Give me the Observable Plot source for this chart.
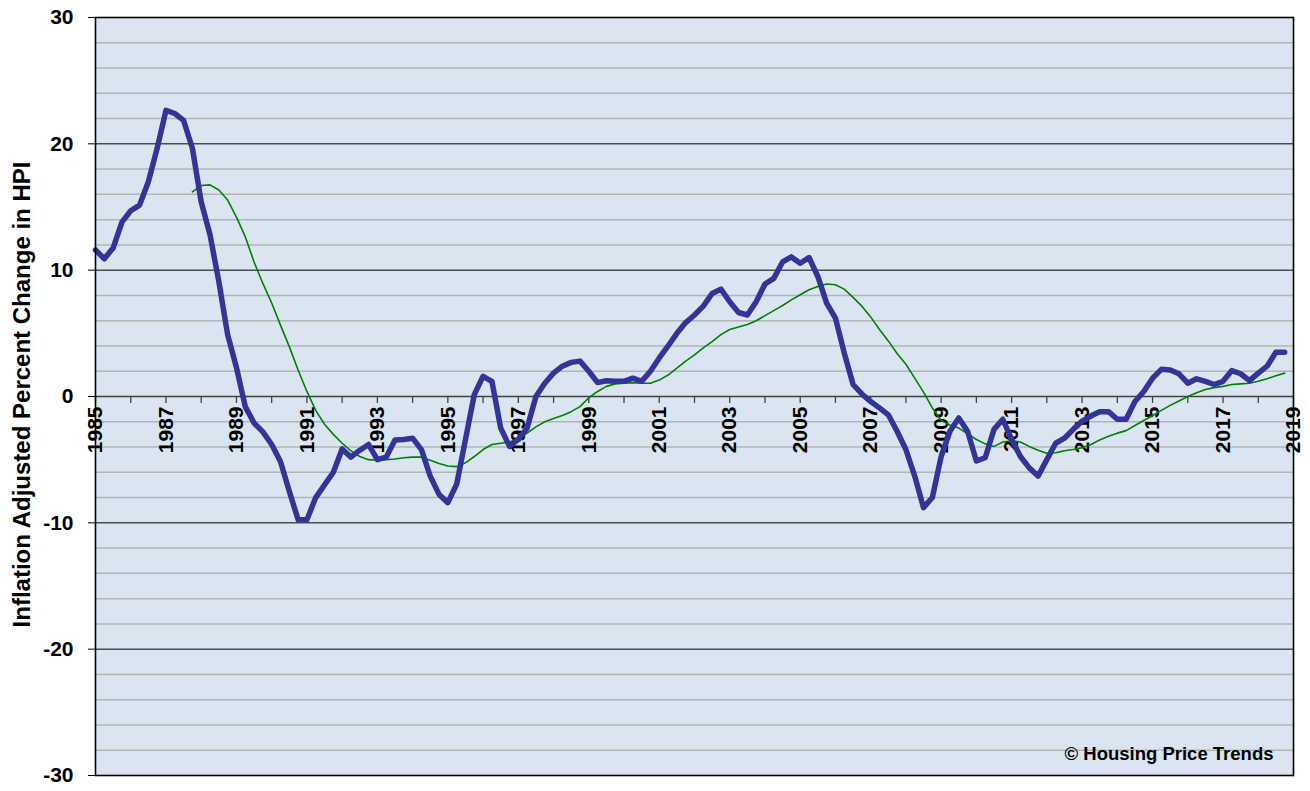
<!DOCTYPE html>
<html>
<head>
<meta charset="utf-8">
<script src="https://cdn.jsdelivr.net/npm/d3@7"></script>
<script src="https://cdn.jsdelivr.net/npm/@observablehq/plot@0.6"></script>
<style>
  html, body { margin: 0; padding: 0; background: white; }
  #chart svg text { font-weight: bold; }
</style>
</head>
<body>
<div id="chart"></div>
<script>
// Quarterly series, 1985 Q1 .. 2018 Q4
const firstYear = 1985;
const hpiChange = [
  11.6, 10.9, 11.75, 13.8,     // 1985
  14.7, 15.15, 17.0, 19.65,    // 1986
  22.65, 22.4, 21.85, 19.65,   // 1987
  15.4, 12.8, 9.1, 4.9,        // 1988
  2.3, -0.8, -2.1, -2.8,       // 1989
  -3.8, -5.15, -7.5, -9.75,    // 1990
  -9.75, -8.0, -7.0, -6.0,     // 1991
  -4.15, -4.8, -4.25, -3.8,    // 1992
  -5.0, -4.8, -3.45, -3.4,     // 1993
  -3.3, -4.2, -6.3, -7.75,     // 1994
  -8.4, -6.95, -3.4, 0.15,     // 1995
  1.6, 1.2, -2.5, -3.95,       // 1996
  -3.4, -2.5, 0.0, 1.05,       // 1997
  1.85, 2.4, 2.7, 2.8,         // 1998
  2.0, 1.1, 1.25, 1.2,         // 1999
  1.2, 1.45, 1.2, 2.0,         // 2000
  3.05, 4.0, 5.0, 5.85,        // 2001
  6.45, 7.15, 8.15, 8.5,       // 2002
  7.5, 6.65, 6.45, 7.5,        // 2003
  8.9, 9.35, 10.65, 11.05,     // 2004
  10.55, 11.0, 9.5, 7.4,       // 2005
  6.2, 3.45, 0.95, 0.2,        // 2006
  -0.4, -0.9, -1.45, -2.75,    // 2007
  -4.2, -6.3, -8.8, -8.0,      // 2008
  -4.75, -2.75, -1.7, -2.75,   // 2009
  -5.1, -4.85, -2.6, -1.8,     // 2010
  -3.4, -4.75, -5.65, -6.3,    // 2011
  -5.0, -3.7, -3.3, -2.6,      // 2012
  -1.95, -1.55, -1.2, -1.2,    // 2013
  -1.8, -1.8, -0.4, 0.4,       // 2014
  1.45, 2.15, 2.1, 1.8,        // 2015
  1.05, 1.4, 1.2, 0.95,        // 2016
  1.2, 2.05, 1.8, 1.25,        // 2017
  1.85, 2.4, 3.5, 3.5          // 2018
];

// Moving average, starting 1987 Q4
const avgStartQuarter = 11; // quarters after 1985 Q1
const movingAvg = [
  16.2,                        // 1987 Q4
  16.7, 16.75, 16.35, 15.55,   // 1988
  14.2, 12.65, 10.65, 8.95,    // 1989
  7.4, 5.65, 3.95, 2.1,        // 1990
  0.4, -1.1, -2.2, -3.0,       // 1991
  -3.7, -4.3, -4.75, -5.0,     // 1992
  -5.05, -5.0, -4.95, -4.85,   // 1993
  -4.8, -4.8, -5.05, -5.3,     // 1994
  -5.5, -5.55, -5.25, -4.75,   // 1995
  -4.2, -3.8, -3.7, -3.6,      // 1996
  -3.35, -2.9, -2.4, -2.0,     // 1997
  -1.75, -1.5, -1.2, -0.8,     // 1998
  -0.1, 0.4, 0.8, 1.0,         // 1999
  1.05, 1.1, 1.05, 1.05,       // 2000
  1.3, 1.7, 2.25, 2.8,         // 2001
  3.3, 3.85, 4.35, 4.9,        // 2002
  5.3, 5.5, 5.7, 6.0,          // 2003
  6.4, 6.8, 7.2, 7.65,         // 2004
  8.05, 8.45, 8.7, 8.9,        // 2005
  8.85, 8.5, 7.85, 7.15,       // 2006
  6.3, 5.3, 4.4, 3.4,          // 2007
  2.55, 1.45, 0.35, -0.9,      // 2008
  -1.9, -2.25, -2.5, -2.95,    // 2009
  -3.4, -3.75, -3.95, -3.6,    // 2010
  -3.5, -3.6, -3.95, -4.25,    // 2011
  -4.5, -4.45, -4.3, -4.2,     // 2012
  -4.05, -3.8, -3.45, -3.15,   // 2013
  -2.9, -2.7, -2.3, -1.9,      // 2014
  -1.5, -1.1, -0.7, -0.35,     // 2015
  0.0, 0.3, 0.55, 0.7,         // 2016
  0.8, 0.95, 1.0, 1.05,        // 2017
  1.2, 1.4, 1.65, 1.85         // 2018
];

const yearTicks = d3.range(1985, 2020);             // tick marks every year
const yearLabels = d3.range(1985, 2020, 2);         // labelled odd years
const yMajor = [-30, -20, -10, 0, 10, 20, 30];
const yMinor = d3.range(-28, 30, 2).filter(v => v % 10 !== 0);
const yTitle = "Inflation Adjusted Percent Change in HPI";
const credit = "© Housing Price Trends";

const blueData = hpiChange.map((v, i) => ({t: firstYear + i / 4, v}));
const greenData = movingAvg.map((v, i) => ({t: firstYear + (avgStartQuarter + i) / 4, v}));

const chart = Plot.plot({
  width: 1310,
  height: 791,
  marginLeft: 95,
  marginRight: 17,
  marginTop: 17,
  marginBottom: 16,
  style: {background: "white", fontFamily: "'Liberation Sans', Arial, sans-serif", color: "black"},
  x: {domain: [1985, 2019], axis: null},
  y: {domain: [-30, 30]},
  marks: [
    Plot.frame({fill: "#dbe5f1"}),
    Plot.ruleY(yMinor, {stroke: "#b4b4b4", strokeWidth: 1.5}),
    Plot.ruleY(yMajor.filter(v => v !== 0 && Math.abs(v) !== 30), {stroke: "black", strokeWidth: 1}),
    Plot.ruleY([0], {stroke: "#404040", strokeWidth: 1.5}),
    Plot.ruleX(yearTicks, {x: d => d, y1: 0, y2: -0.55, stroke: "#404040", strokeWidth: 1.3}),
    Plot.text(yearLabels, {x: d => d, y: 0, text: d => String(d), rotate: -90, textAnchor: "end", dy: 10, fontSize: 21, fontWeight: "bold", fill: "black"}),
    Plot.axisY({ticks: yMajor, tickSize: 7, tickPadding: 15, fontSize: 21, fontWeight: "bold", label: null, tickFormat: d => String(d)}),
    Plot.line(greenData, {x: "t", y: "v", stroke: "#008000", strokeWidth: 1.6}),
    Plot.line(blueData, {x: "t", y: "v", stroke: "#333399", strokeWidth: 5.5, strokeLinejoin: "round"}),
    Plot.frame({stroke: "black", strokeWidth: 1.6}),
    Plot.text([credit], {frameAnchor: "bottom-right", dx: -20, dy: -21, lineAnchor: "middle", textAnchor: "end", fontSize: 18.5, fontWeight: "bold", fill: "black"}),
    Plot.text([yTitle], {frameAnchor: "left", dx: -73, dy: -2, rotate: -90, textAnchor: "middle", fontSize: 24, fontWeight: "bold", fill: "black"})
  ]
});
document.getElementById("chart").appendChild(chart);
</script>
</body>
</html>
